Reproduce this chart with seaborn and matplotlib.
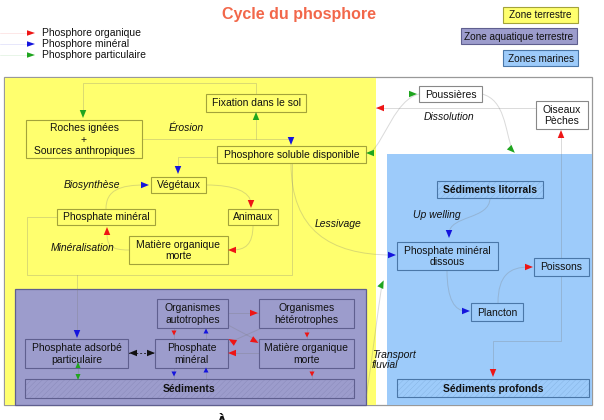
import matplotlib
matplotlib.use("Agg")
import matplotlib.pyplot as plt
import seaborn as sns
import numpy as np
from matplotlib.patches import Rectangle, Polygon, PathPatch
from matplotlib.path import Path

sns.set_theme(style="white")
plt.rcParams['font.family'] = ['Liberation Sans', 'DejaVu Sans']
plt.rcParams['hatch.linewidth'] = 0.3

# Texts of the diagram
title = "Cycle du phosphore"
legend_labels = ["Phosphore organique", "Phosphore minéral", "Phosphore particulaire"]
zone_labels = ["Zone terrestre", "Zone aquatique terrestre", "Zones marines"]
process_labels = ["Érosion", "Biosynthèse", "Minéralisation", "Lessivage",
                  "Dissolution", "Up welling", "Transport\nfluvial"]

# Colours
c_org, c_min, c_part = "#ee1515", "#1515dd", "#1fa51f"
yellow, purple, blue = "#ffff6e", "#9c9ccc", "#9dcbfa"
y_edge, p_edge, b_edge, w_edge = "#a3a33a", "#5f5f8f", "#4a77a8", "#888888"
line_col = "#7a7a7a"

fig = plt.figure(figsize=(6.04, 4.2), dpi=100)
ax = fig.add_axes([0, 0, 1, 1])
ax.set_xlim(0, 604)
ax.set_ylim(420, 0)
ax.axis('off')

FS = 7.5


def box(x0, y0, x1, y1, text, face, edge, bold=False, hatch=False):
    ax.add_patch(Rectangle((x0, y0), x1 - x0, y1 - y0, facecolor=face,
                           edgecolor=edge, lw=0.8, zorder=3))
    if hatch:
        ax.add_patch(Rectangle((x0, y0), x1 - x0, y1 - y0, facecolor='none',
                               edgecolor=edge, lw=0, hatch='//////', alpha=0.3, zorder=3))
    ax.text((x0 + x1) / 2, (y0 + y1) / 2 + 0.5, text, ha='center', va='center',
            fontsize=FS, fontweight='bold' if bold else 'normal',
            color='#111111', linespacing=1.2, zorder=4)


def head(x, y, ang, color, L=8, W=6.5):
    # ang in degrees, 0 = right, 90 = down (y axis inverted)
    d = np.array([np.cos(np.radians(ang)), np.sin(np.radians(ang))])
    n = np.array([-d[1], d[0]])
    c = np.array([x, y])
    tip = c + d * L / 2
    b1 = c - d * L / 2 + n * W / 2
    b2 = c - d * L / 2 - n * W / 2
    ax.add_patch(Polygon([tip, b1, b2], closed=True, facecolor=color,
                         edgecolor='none', zorder=5))


def poly(pts, alpha=0.28, ls='-', color=line_col):
    xs, ys = zip(*pts)
    ax.plot(xs, ys, color=color, lw=0.7, alpha=alpha, ls=ls, zorder=2)


def curve(p0, p1, p2, p3, alpha=0.28):
    path = Path([p0, p1, p2, p3], [Path.MOVETO, Path.CURVE4, Path.CURVE4, Path.CURVE4])
    ax.add_patch(PathPatch(path, facecolor='none', edgecolor=line_col, lw=0.7,
                           alpha=alpha, zorder=2))


# Title
ax.text(299, 15, title, ha='center', va='center', fontsize=11.5,
        fontweight='bold', color='#f2674a')

# Legend of flows
for i, (lab, col) in enumerate(zip(legend_labels, [c_org, c_min, c_part])):
    yy = 33 + i * 11
    ax.plot([0, 27], [yy, yy], color=col, lw=0.6, alpha=0.12)
    head(31, yy, 0, col, L=8, W=5.5)
    ax.text(42, yy, lab, ha='left', va='center', fontsize=FS, color='#111111')

# Legend of zones
zone_boxes = [(503, 7, 578, 23), (461, 28, 577, 44), (503, 50, 578, 66)]
zone_faces = [yellow, purple, blue]
zone_edges = [y_edge, p_edge, b_edge]
for (x0, y0, x1, y1), lab, fc, ec in zip(zone_boxes, zone_labels, zone_faces, zone_edges):
    ax.add_patch(Rectangle((x0, y0), x1 - x0, y1 - y0, facecolor=fc, edgecolor=ec, lw=0.8))
    ax.text((x0 + x1) / 2, (y0 + y1) / 2 + 0.5, lab, ha='center', va='center',
            fontsize=7.2, color='#111111')

# Zones
ax.add_patch(Rectangle((4, 77), 588, 328, facecolor='white', edgecolor='#999999', lw=0.9, zorder=0))
ax.add_patch(Rectangle((4.5, 77.5), 371.5, 327.5, facecolor=yellow, edgecolor='none', zorder=1))
ax.add_patch(Rectangle((387, 154), 205, 251, facecolor=blue, edgecolor='none', zorder=1))
ax.add_patch(Rectangle((15, 289), 351, 116, facecolor=purple, edgecolor=p_edge, lw=0.9, zorder=1))

# Flow lines (terrestrial)
poly([(83, 113), (83, 83), (256, 83), (256, 94)])
poly([(142, 139), (291, 139), (291, 140)])
poly([(256, 112), (256, 139)])
poly([(217, 157), (178, 157), (178, 169)])
curve((106, 209), (106, 190), (120, 185), (145, 185))
curve((206, 185), (235, 185), (250, 192), (251, 203))
curve((253, 225), (253, 245), (245, 250), (232, 250))
curve((129, 250), (110, 250), (107, 245), (107, 233))
curve((291, 163), (291, 230), (330, 255), (392, 255))
poly([(57, 217), (27, 217), (27, 275), (292, 275), (292, 163)])
poly([(77, 275), (77, 333)])

# Flow lines (aquatic)
poly([(128, 353), (155, 353)], alpha=0.9, ls=(0, (2, 2)), color='#222222')
poly([(78, 368), (78, 379)])
poly([(174, 328), (174, 339)])
poly([(206, 328), (206, 339)])
poly([(174, 368), (174, 379)])
poly([(206, 368), (206, 379)])
poly([(228, 313), (259, 313)])
poly([(307, 328), (307, 339)])
poly([(312, 368), (312, 379)])
poly([(228, 325), (262, 343)])
poly([(262, 328), (228, 343)])
poly([(228, 353), (259, 353)])

# Flow lines (marine)
poly([(536, 108), (376, 108)])
curve((419, 94), (395, 100), (385, 140), (371, 152))
curve((482, 94), (505, 100), (505, 130), (512, 149))
curve((490, 198), (490, 220), (449, 215), (449, 234))
curve((447, 270), (447, 300), (455, 311), (466, 311))
curve((498, 303), (498, 275), (510, 267), (529, 267))
poly([(561, 135), (561, 341), (493, 341), (493, 373)])
curve((366, 398), (372, 360), (378, 310), (382, 284))

# Boxes (terrestrial zone)
box(206, 94, 306, 112, "Fixation dans le sol", yellow, y_edge)
box(26, 120, 142, 158, "Roches ignées\n+\nSources anthropiques", yellow, y_edge)
box(217, 146, 366, 163, "Phosphore soluble disponible", yellow, y_edge)
box(151, 177, 206, 193, "Végétaux", yellow, y_edge)
box(57, 209, 155, 225, "Phosphate minéral", yellow, y_edge)
box(228, 209, 278, 225, "Animaux", yellow, y_edge)
box(129, 236, 228, 264, "Matière organique\nmorte", yellow, y_edge)

# Boxes (terrestrial aquatic zone)
box(157, 299, 228, 328, "Organismes\nautotrophes", purple, p_edge)
box(259, 299, 354, 328, "Organismes\nhétérotrophes", purple, p_edge)
box(25, 339, 128, 368, "Phosphate adsorbé\nparticulaire", purple, p_edge)
box(155, 339, 228, 368, "Phosphate\nminéral", purple, p_edge)
box(259, 339, 354, 368, "Matière organique\nmorte", purple, p_edge)
box(25, 379, 354, 398, "Sédiments", purple, p_edge, bold=True, hatch=True)

# Boxes (marine zone)
box(419, 86, 482, 102, "Poussières", 'white', w_edge)
box(536, 101, 588, 129, "Oiseaux\nPèches", 'white', w_edge)
box(437, 181, 543, 198, "Sédiments litorrals", blue, b_edge, bold=True, hatch=True)
box(397, 242, 498, 270, "Phosphate minéral\ndissous", blue, b_edge)
box(534, 258, 589, 276, "Poissons", blue, b_edge)
box(471, 303, 523, 321, "Plancton", blue, b_edge)
box(397, 379, 589, 397, "Sédiments profonds", blue, b_edge, bold=True, hatch=True)

# Arrow heads
head(83, 114, 90, c_part)
head(256, 116, -90, c_part)
head(291, 141, 90, c_min)
head(380, 108, 180, c_org)
head(370, 153, 180, c_part)
head(178, 170, 90, c_min)
head(145, 185, 0, c_min)
head(251, 204, 90, c_org)
head(232, 250, 180, c_org)
head(107, 231, -90, c_org)
head(392, 255, 0, c_min)
head(77, 334, 90, c_min)
head(133, 353, 180, '#111111')
head(151, 353, 0, '#111111')
head(78, 365, -90, c_part, L=6, W=5)
head(78, 377, 90, c_part, L=6, W=5)
head(174, 333, 90, c_org, L=5, W=5)
head(206, 331, -90, c_min, L=5, W=5)
head(174, 374, 90, c_min, L=5, W=5)
head(206, 370, -90, c_min, L=5, W=5)
head(254, 313, 0, c_org)
head(307, 335, 90, c_org, L=5, W=5)
head(312, 374, 90, c_org, L=5, W=5)
head(232, 341, 210, c_org)
head(255, 341, 30, c_org)
head(232, 353, 180, c_org)
head(413, 94, 0, c_part)
head(561, 134, -90, c_org)
head(512, 150, 45, c_part)
head(449, 234, 90, c_min)
head(466, 311, 0, c_min)
head(529, 267, 0, c_org)
head(493, 373, 90, c_org)
head(382, 284, -65, c_part)

# Process labels
label_pos = [(186, 128), (92, 185), (83, 248), (338, 224), (449, 117), (437, 215), (372, 360)]
for (x, y), lab in zip(label_pos, process_labels):
    ha = 'left' if '\n' in lab else 'center'
    ax.text(x, y, lab, ha=ha, va='center', fontsize=FS, style='italic',
            color='#111111', linespacing=1.1, zorder=4)

# Cropped letter at the bottom edge
ax.text(222, 416, "À", ha='center', va='top', fontsize=12, fontweight='bold', color='#111111')

fig.savefig("out.png", dpi=100)
